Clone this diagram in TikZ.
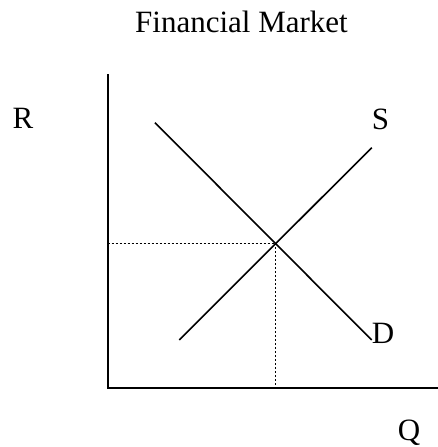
\documentclass[tikz,border=0pt]{standalone}
\usepackage{fontspec}
\setmainfont{Liberation Serif}
\begin{document}
\begin{tikzpicture}[x=1pt,y=-1pt,
  lbl/.style={anchor=base,inner sep=0pt,font=\fontsize{31}{36}\selectfont},
  axisline/.style={line width=2pt,line cap=rect},
  curve/.style={line width=1.6pt},
  guide/.style={line width=1.3pt,dash pattern=on 2pt off 2pt}]
\useasboundingbox (0,0) rectangle (437,447);
\coordinate (top) at (107.7,75);
\coordinate (origin) at (107.7,387.5);
\coordinate (right) at (437,387.5);
\coordinate (d1) at (155,122.7);
\coordinate (d2) at (371.7,340);
\coordinate (s1) at (179.3,340);
\coordinate (s2) at (371.7,147.7);
\coordinate (eq) at (275.5,243.4);
\coordinate (eqy) at (107.7,243.4);
\coordinate (eqx) at (275.5,387.5);
\node[lbl] (title) at (241.5,32.3) {Financial Market};
\node[lbl] (R) at (23,128.3) {R};
\node[lbl] (S) at (380.5,129) {S};
\node[lbl] (D) at (383,343) {D};
\node[lbl] (Q) at (409,440) {Q};
\draw[axisline] (top) -- (origin) -- (right);
\draw[curve] (d1) -- (d2);
\draw[curve] (s1) -- (s2);
\draw[guide] (eqy) -- (eq);
\draw[guide] (eq) -- (eqx);
\end{tikzpicture}
\end{document}
